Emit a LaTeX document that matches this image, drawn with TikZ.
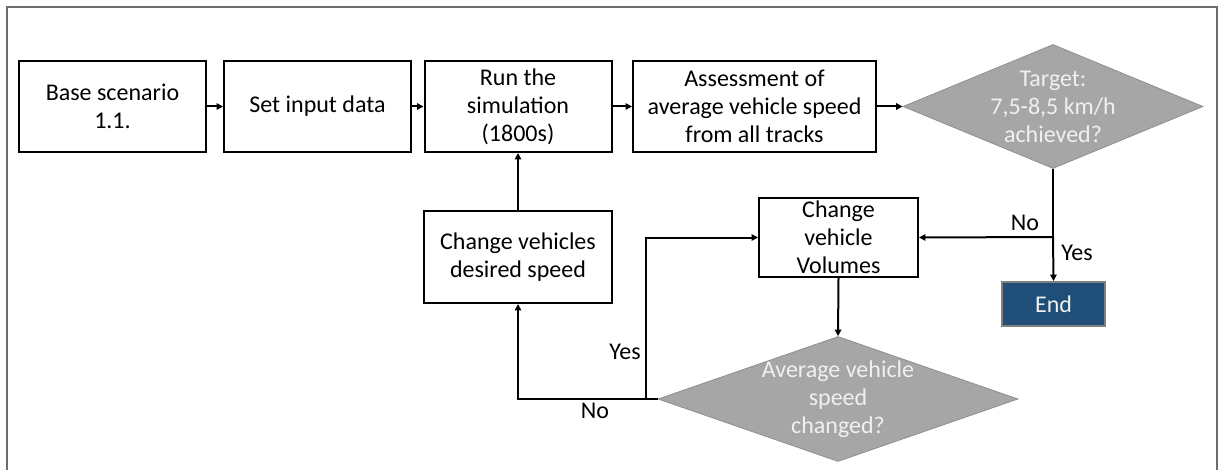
\documentclass[tikz,border=0pt]{standalone}
\usepackage{fontspec}
\setmainfont{Carlito}
\usetikzlibrary{shapes.geometric,arrows.meta}
\definecolor{framegray}{HTML}{6E6E6E}
\definecolor{diafill}{HTML}{A6A6A6}
\definecolor{diaedge}{HTML}{8F8F8F}
\definecolor{diatext}{HTML}{F0F0F0}
\definecolor{endblue}{HTML}{1F4E79}
\definecolor{endedge}{HTML}{808080}
\begin{document}
\begin{tikzpicture}[x=0.5pt,y=-0.5pt,
  every node/.style={font=\fontsize{12}{14}\selectfont},
  stepbox/.style={draw, line width=1pt, inner sep=0pt, align=center,
    minimum width=93.5pt, minimum height=45.5pt},
  decision/.style={diamond, fill=diafill, draw=diaedge, line width=0.4pt,
    inner sep=0pt, aspect=2.4},
  dectext/.style={text=diatext, align=center, inner sep=0pt},
  endbox/.style={draw=endedge, fill=endblue, line width=1pt, text=diatext,
    minimum width=51.5pt, minimum height=22pt, inner sep=0pt},
  flow/.style={line width=1pt},
  arr/.style={flow, -{Triangle[length=3.2pt,width=3.2pt]}},
  lbl/.style={inner sep=0pt}]
\useasboundingbox (0,0) rectangle (1219,470);

% outer frame (open at the bottom)
\draw[framegray, line width=1pt] (7,470) -- (7,7) -- (1217,7) -- (1217,470);

% top row of process steps
\node[stepbox] (base) at (112.5,106.5) {Base scenario\\1.1.};
\node[stepbox] (set) at (317.5,106.5) {Set input data};
\node[stepbox] (run) at (518,106.5) {Run the\\simulation\\(1800s)};
\node[stepbox, minimum width=121.5pt] (assess) at (754.5,106.5)
  {Assessment of\\average vehicle speed\\from all tracks};

% first decision
\node[decision, minimum width=150pt, minimum height=62pt] (d1) at (1053,106.5) {};
\node[dectext] (d1t) at (d1) {Target:\\7,5-8,5 km/h\\achieved?};

% end
\node[endbox] (end) at (1053.5,304) {End};

% second row
\node[stepbox, minimum width=94pt, minimum height=46pt] (speed) at (518,257)
  {Change vehicles\\desired speed};
\node[draw, line width=1pt, minimum width=79.5pt, minimum height=39.5pt,
  inner sep=0pt] (vol) at (838.5,237.5) {};
\node[align=center, inner sep=0pt] (volt) at (vol) {Change\\vehicle\\Volumes};

% second decision
\node[decision, minimum width=180pt, minimum height=62.5pt] (d2) at (838,399) {};
\node[dectext] (d2t) at (d2) {Average vehicle\\speed\\changed?};

% branch points
\coordinate (split) at (1053,237);
\coordinate (yesturn) at (646,399);

% connectors
\draw[arr] (base) -- (set);
\draw[arr] (set) -- (run);
\draw[arr] (run) -- (assess);
\draw[arr] (assess) -- (d1);
\draw[flow] (d1.south) -- (split);
\draw[arr] (split) -- (end.north);
\draw[arr] (split) -- (vol.east);
\draw[arr] (vol.south) -- (d2.north);
\draw[arr] (d2.west) -| (speed.south);
\draw[arr] (yesturn) |- (vol.west);
\draw[arr] (speed.north) -- (run.south);

% branch labels
\node[lbl] (l-no1) at (1025,223) {No};
\node[lbl] (l-yes1) at (1077,253) {Yes};
\node[lbl] (l-yes2) at (625,352) {Yes};
\node[lbl] (l-no2) at (595,411) {No};
\end{tikzpicture}
\end{document}
